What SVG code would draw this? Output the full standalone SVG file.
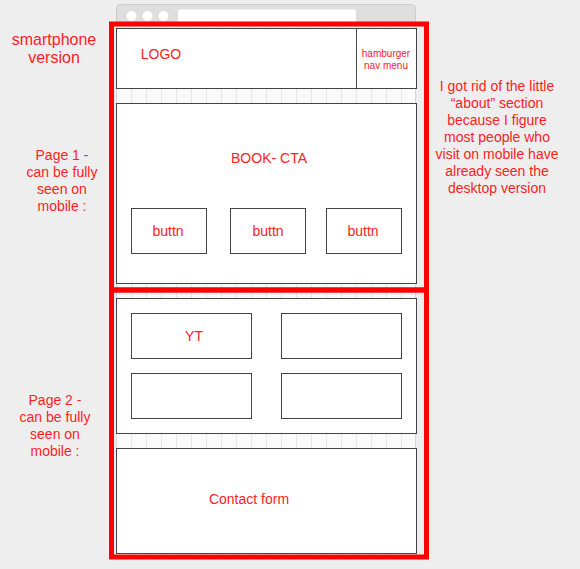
<svg xmlns="http://www.w3.org/2000/svg" width="580" height="569" viewBox="0 0 580 569">
  <defs>
    <style>
      .box { fill: #ffffff; stroke: #444444; stroke-width: 1; }
      .page { fill: none; stroke: #ff0000; stroke-width: 5; }
      .lbl { font-family: "Liberation Sans", Arial, sans-serif; fill: #ff2222; text-anchor: middle; }
      .note { font-family: "Liberation Sans", Arial, sans-serif; fill: #ff2222; text-anchor: middle; font-size: 14px; }
    </style>
    <pattern id="cols" x="116" y="0" width="15" height="15" patternUnits="userSpaceOnUse">
      <rect width="15" height="15" fill="#fafafa"/>
      <line x1="0.5" y1="0" x2="0.5" y2="15" stroke="#e6e6e6" stroke-width="1"/>
    </pattern>
  </defs>

  <rect width="580" height="569" fill="#eeeeee"/>

  <!-- browser chrome -->
  <g id="browser">
    <rect x="116.5" y="4.5" width="299" height="30" rx="4" fill="#dedede" stroke="#cccccc"/>
    <circle cx="131.5" cy="16" r="5" fill="#ffffff"/>
    <circle cx="147.5" cy="16" r="5" fill="#ffffff"/>
    <circle cx="163.5" cy="16" r="5" fill="#ffffff"/>
    <rect x="178" y="9.5" width="178" height="16" rx="2" fill="#ffffff"/>
    <rect x="116.5" y="26.5" width="299" height="530" fill="url(#cols)" stroke="#d6d6d6"/>
  </g>

  <!-- header -->
  <g id="header">
    <rect class="box" x="116.5" y="28.5" width="300" height="60"/>
    <line x1="356.5" y1="28.5" x2="356.5" y2="88.5" stroke="#444444"/>
    <text class="lbl" x="161" y="59" font-size="14">LOGO</text>
    <text class="lbl" x="386" y="57" font-size="10">hamburger</text>
    <text class="lbl" x="386" y="69" font-size="10">nav menu</text>
  </g>

  <!-- booking call to action -->
  <g id="book">
    <rect class="box" x="116.5" y="103.5" width="300" height="180"/>
    <text class="lbl" x="269" y="163" font-size="14">BOOK- CTA</text>
  </g>
  <g id="btn1">
    <rect class="box" x="131.5" y="208.5" width="75" height="45"/>
    <text class="lbl" x="168" y="236" font-size="14">buttn</text>
  </g>
  <g id="btn2">
    <rect class="box" x="230.5" y="208.5" width="75" height="45"/>
    <text class="lbl" x="268" y="236" font-size="14">buttn</text>
  </g>
  <g id="btn3">
    <rect class="box" x="326.5" y="208.5" width="75" height="45"/>
    <text class="lbl" x="363" y="236" font-size="14">buttn</text>
  </g>

  <!-- media grid -->
  <g id="media">
    <rect class="box" x="116.5" y="298.5" width="300" height="135"/>
  </g>
  <g id="yt">
    <rect class="box" x="131.5" y="313.5" width="120" height="45"/>
    <text class="lbl" x="194" y="341" font-size="14">YT</text>
  </g>
  <g id="media2">
    <rect class="box" x="281.5" y="313.5" width="120" height="45"/>
  </g>
  <g id="media3">
    <rect class="box" x="131.5" y="373.5" width="120" height="45"/>
  </g>
  <g id="media4">
    <rect class="box" x="281.5" y="373.5" width="120" height="45"/>
  </g>

  <!-- contact -->
  <g id="contact">
    <rect class="box" x="116.5" y="448.5" width="300" height="105"/>
    <text class="lbl" x="249" y="504" font-size="14">Contact form</text>
  </g>

  <!-- page outlines -->
  <g id="page1"><rect class="page" x="111.5" y="24" width="315" height="266"/></g>
  <g id="page2"><rect class="page" x="111.5" y="290" width="315" height="267"/></g>

  <!-- notes -->
  <g id="title">
    <text class="lbl" x="54" y="45" font-size="16">smartphone</text>
    <text class="lbl" x="54" y="63" font-size="16">version</text>
  </g>
  <g id="note1">
    <text class="note" x="62" y="160">Page 1 -</text>
    <text class="note" x="62" y="177">can be fully</text>
    <text class="note" x="62" y="194">seen on</text>
    <text class="note" x="62" y="211">mobile :</text>
  </g>
  <g id="note2">
    <text class="note" x="55" y="405">Page 2 -</text>
    <text class="note" x="55" y="422">can be fully</text>
    <text class="note" x="55" y="439">seen on</text>
    <text class="note" x="55" y="456">mobile :</text>
  </g>
  <g id="note3">
    <text class="note" x="497" y="91">I got rid of the little</text>
    <text class="note" x="497" y="108">“about” section</text>
    <text class="note" x="497" y="125">because I figure</text>
    <text class="note" x="497" y="142">most people who</text>
    <text class="note" x="497" y="159">visit on mobile have</text>
    <text class="note" x="497" y="176">already seen the</text>
    <text class="note" x="497" y="193">desktop version</text>
  </g>
</svg>
